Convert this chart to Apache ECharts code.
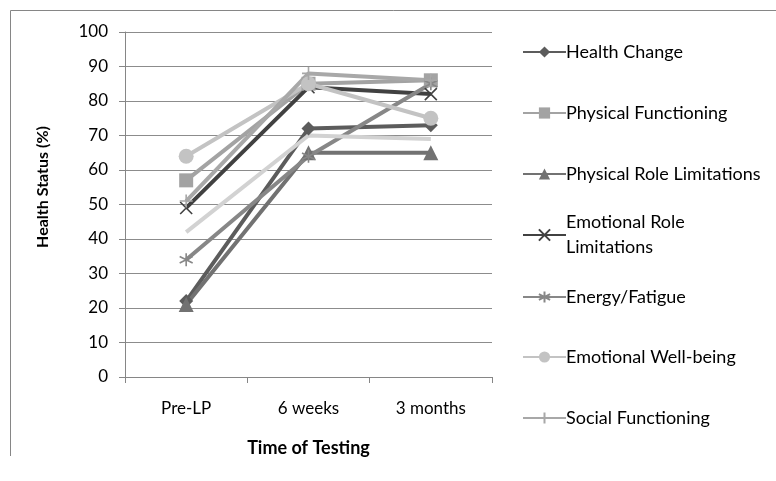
<!DOCTYPE html>
<html><head><meta charset="utf-8">
<script src="https://cdn.jsdelivr.net/npm/echarts@6/dist/echarts.min.js"></script>
<style>html,body{margin:0;padding:0;background:#fff}#c{width:776px;height:481px}</style>
</head><body><div id="c"></div>
<script>
const categories = ['Pre-LP', '6 weeks', '3 months'];
const healthChange = [22, 72, 73];
const physicalFunctioning = [57, 85, 86];
const physicalRole = [21, 65, 65];
const emotionalRole = [49, 84, 82];
const energyFatigue = [34, 64, 85];
const emotionalWellbeing = [64, 85, 75];
const socialFunctioning = [51, 88, 86];
const bodilyPain = [42, 70, 69];
const yTicks = [0, 10, 20, 30, 40, 50, 60, 70, 80, 90, 100];

const FONT = 'Lato';
const X_PATH = 'path://M0,0L10,10M10,0L0,10';
const STAR_PATH = 'path://M5,0L5,10M0.7,2.5L9.3,7.5M0.7,7.5L9.3,2.5';
const PLUS_PATH = 'path://M5,0L5,10M0,5L10,5';

function mk(name, data, color, symbol, size, stroke) {
  const s = {
    name, type: 'line', data, symbol, symbolSize: size,
    lineStyle: { color, width: 4 },
    itemStyle: { color, borderColor: color, borderWidth: stroke ? 1.6 : 0 },
    emphasis: { disabled: true }
  };
  if (stroke) s.itemStyle.color = 'none';
  return s;
}

const series = [
  mk('Health Change', healthChange, '#5c5c5c', 'diamond', 14, false),
  mk('Physical Functioning', physicalFunctioning, '#a3a3a3', 'rect', 14, false),
  mk('Physical Role Limitations', physicalRole, '#727272', 'triangle', 15, false),
  mk('Emotional Role Limitations', emotionalRole, '#414141', X_PATH, 12, true),
  mk('Energy/Fatigue', energyFatigue, '#878787', STAR_PATH, 13, true),
  mk('Emotional Well-being', emotionalWellbeing, '#c3c3c3', 'circle', 15, false),
  mk('Social Functioning', socialFunctioning, '#a8a8a8', PLUS_PATH, 13, true),
  mk('Bodily Pain', bodilyPain, '#d2d2d2', 'path://M0,0L10,0', 8, true)
];

const legendNames = ['Health Change', 'Physical Functioning', 'Physical Role Limitations',
  'Emotional Role Limitations', 'Energy/Fatigue', 'Emotional Well-being', 'Social Functioning'];
const legendCenters = [52, 113, 174, 235, 297, 357, 418];
const legends = legendNames.map((n, i) => {
  const two = n === 'Emotional Role Limitations';
  return {
    data: [n], left: 522, top: two ? legendCenters[i] - 37.5 : legendCenters[i] - 12.5,
    padding: 0, itemWidth: 43, itemHeight: 14, itemGap: 0, orient: 'vertical',
    selectedMode: false,
    formatter: two ? 'Emotional Role\nLimitations' : '{name}',
    textStyle: { fontFamily: FONT, fontSize: 18, color: '#000', lineHeight: 25,
      padding: two ? [25, 0, 0, -5] : [0, 0, 0, -5] }
  };
});

const chart = echarts.init(document.getElementById('c'), null, { renderer: 'canvas' });
chart.setOption({
  animation: false,
  backgroundColor: '#fff',
  grid: { left: 125, right: 284, top: 32, bottom: 104, containLabel: false },
  legend: legends,
  xAxis: {
    type: 'category', data: categories, boundaryGap: true,
    name: 'Time of Testing', nameLocation: 'middle', nameGap: 62,
    nameTextStyle: { fontFamily: FONT, fontSize: 18, fontWeight: 'bold', color: '#000' },
    axisLine: { lineStyle: { color: '#868686', width: 1 } },
    axisTick: { show: true, length: 6, inside: false, alignWithLabel: false, lineStyle: { color: '#868686' } },
    axisLabel: { fontFamily: FONT, fontSize: 17, color: '#000', margin: 23 },
    splitLine: { show: false }
  },
  yAxis: {
    type: 'value', min: 0, max: 100, interval: 10,
    name: 'Health Status (%)', nameLocation: 'middle', nameGap: 74, nameRotate: 90,
    nameTextStyle: { fontFamily: FONT, fontSize: 16, fontWeight: 'bold', color: '#000', padding: [0, 0, 0, 35] },
    axisLine: { show: true, lineStyle: { color: '#868686', width: 1 } },
    axisTick: { show: true, length: 6, lineStyle: { color: '#868686' } },
    axisLabel: { fontFamily: FONT, fontSize: 17, color: '#000', margin: 17,
      formatter: v => yTicks.includes(v) ? String(v) : '' },
    splitLine: { show: true, lineStyle: { color: '#8c8c8c', width: 1 } }
  },
  graphic: [
    { type: 'line', shape: { x1: 10.5, y1: 10.5, x2: 776, y2: 10.5 }, style: { stroke: '#868686', lineWidth: 1 } },
    { type: 'line', shape: { x1: 10.5, y1: 10.5, x2: 10.5, y2: 456 }, style: { stroke: '#868686', lineWidth: 1 } }
  ],
  series
});
</script></body></html>
